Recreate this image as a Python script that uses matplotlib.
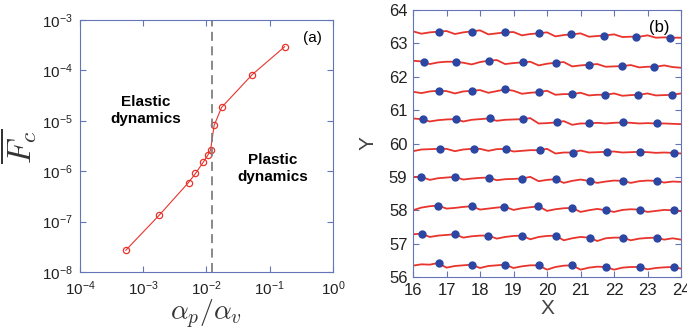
import numpy as np
import matplotlib
matplotlib.use("Agg")
import matplotlib.pyplot as plt

plt.rcParams['font.family'] = ['Liberation Sans', 'DejaVu Sans']
plt.rcParams['mathtext.fontset'] = 'cm'

# panel (a): critical force vs alpha_p / alpha_v
ratio = [5.3e-4, 1.79e-3, 5.2e-3, 6.7e-3, 8.9e-3, 1.05e-2, 1.16e-2, 1.32e-2, 1.73e-2, 5.26e-2, 0.172]
fc = [2.7e-8, 1.34e-7, 5.96e-7, 9.0e-7, 1.51e-6, 2.08e-6, 2.61e-6, 8.07e-6, 1.84e-5, 8.2e-5, 2.95e-4]
transition = 1.23e-2

# panel (b): vortex rows (red trajectories, blue positions)
x_line = [16.00, 16.25, 16.50, 16.75, 17.00, 17.25, 17.50, 17.75, 18.00, 18.25, 18.50,
          18.75, 19.00, 19.25, 19.50, 19.75, 20.00, 20.25, 20.50, 20.75, 21.00, 21.25,
          21.50, 21.75, 22.00, 22.25, 22.50, 22.75, 23.00, 23.25, 23.50, 23.75, 24.00]
rows_y = [
    [63.36, 63.29, 63.33, 63.35, 63.37, 63.28, 63.33, 63.36, 63.39, 63.27, 63.30,
     63.33, 63.34, 63.24, 63.28, 63.30, 63.33, 63.21, 63.25, 63.27, 63.30, 63.20,
     63.22, 63.24, 63.27, 63.19, 63.20, 63.20, 63.24, 63.17, 63.18, 63.17, 63.17],
    [62.48, 62.46, 62.38, 62.43, 62.45, 62.45, 62.42, 62.37, 62.44, 62.48, 62.50,
     62.38, 62.41, 62.43, 62.45, 62.34, 62.39, 62.42, 62.44, 62.31, 62.34, 62.36,
     62.38, 62.30, 62.31, 62.32, 62.35, 62.28, 62.30, 62.30, 62.34, 62.29, 62.27],
    [61.55, 61.51, 61.56, 61.58, 61.57, 61.50, 61.56, 61.58, 61.60, 61.52, 61.57,
     61.62, 61.58, 61.49, 61.52, 61.54, 61.58, 61.46, 61.48, 61.48, 61.52, 61.44,
     61.46, 61.46, 61.50, 61.43, 61.45, 61.46, 61.50, 61.44, 61.45, 61.46, 61.50],
    [60.75, 60.73, 60.66, 60.70, 60.72, 60.73, 60.66, 60.71, 60.73, 60.75, 60.68,
     60.71, 60.72, 60.73, 60.76, 60.60, 60.61, 60.63, 60.67, 60.56, 60.60, 60.60,
     60.62, 60.60, 60.62, 60.63, 60.62, 60.60, 60.61, 60.60, 60.60, 60.59, 60.58],
    [59.77, 59.82, 59.83, 59.84, 59.84, 59.77, 59.82, 59.84, 59.84, 59.78, 59.83,
     59.84, 59.76, 59.78, 59.80, 59.80, 59.84, 59.70, 59.73, 59.73, 59.79, 59.73,
     59.74, 59.75, 59.76, 59.73, 59.74, 59.75, 59.74, 59.72, 59.73, 59.72, 59.70],
    [59.00, 59.00, 58.91, 58.96, 58.98, 59.00, 58.92, 58.95, 58.97, 58.98, 58.90,
     58.93, 58.94, 58.95, 59.00, 58.87, 58.91, 58.93, 58.82, 58.88, 58.92, 58.88,
     58.82, 58.86, 58.89, 58.88, 58.82, 58.87, 58.89, 58.88, 58.83, 58.86, 58.85],
    [58.00, 58.08, 58.12, 58.14, 58.05, 58.07, 58.10, 58.12, 58.02, 58.05, 58.08,
     58.10, 58.01, 58.06, 58.09, 58.12, 57.98, 58.03, 58.06, 58.07, 57.95, 58.00,
     58.04, 58.00, 57.95, 58.01, 58.03, 58.02, 57.95, 57.98, 58.01, 58.00, 57.97],
    [57.28, 57.30, 57.20, 57.24, 57.26, 57.28, 57.18, 57.22, 57.24, 57.24, 57.15,
     57.20, 57.23, 57.24, 57.13, 57.20, 57.23, 57.24, 57.10, 57.16, 57.20, 57.18,
     57.08, 57.16, 57.18, 57.18, 57.10, 57.15, 57.17, 57.18, 57.12, 57.16, 57.12],
    [56.34, 56.38, 56.37, 56.42, 56.28, 56.33, 56.35, 56.37, 56.27, 56.33, 56.35,
     56.37, 56.27, 56.32, 56.35, 56.35, 56.22, 56.30, 56.34, 56.35, 56.22, 56.28,
     56.31, 56.30, 56.22, 56.28, 56.30, 56.30, 56.23, 56.27, 56.29, 56.30, 56.25],
]
dots_x = [
    [16.78, 17.77, 18.74, 19.76, 20.72, 21.71, 22.66, 23.68],
    [16.32, 17.28, 18.27, 19.27, 20.26, 21.24, 22.23, 23.20],
    [16.78, 17.77, 18.74, 19.76, 20.74, 21.74, 22.73, 23.73],
    [16.30, 17.28, 18.31, 19.27, 20.29, 21.25, 22.26, 23.28],
    [16.80, 17.82, 18.79, 19.79, 20.79, 21.79, 22.78, 23.78],
    [16.24, 17.26, 18.27, 19.24, 20.27, 21.29, 22.28, 23.28],
    [16.76, 17.75, 18.72, 19.74, 20.76, 21.76, 22.78, 23.78],
    [16.28, 17.26, 18.25, 19.24, 20.26, 21.27, 22.28, 23.28],
    [16.78, 17.77, 18.74, 19.77, 20.76, 21.77, 22.78, 23.78],
]
dots_y = [
    [63.35, 63.35, 63.33, 63.30, 63.27, 63.23, 63.20, 63.17],
    [62.45, 62.45, 62.48, 62.43, 62.42, 62.36, 62.32, 62.30],
    [61.58, 61.58, 61.62, 61.54, 61.48, 61.46, 61.46, 61.46],
    [60.73, 60.73, 60.75, 60.73, 60.63, 60.60, 60.63, 60.60],
    [59.84, 59.84, 59.84, 59.80, 59.73, 59.75, 59.75, 59.72],
    [59.00, 59.00, 58.98, 58.95, 58.93, 58.88, 58.88, 58.88],
    [58.14, 58.12, 58.10, 58.12, 58.07, 58.00, 58.02, 58.00],
    [57.30, 57.28, 57.24, 57.24, 57.24, 57.18, 57.18, 57.18],
    [56.42, 56.37, 56.37, 56.35, 56.35, 56.30, 56.30, 56.30],
]

red = "#e8342c"
blue = "#2b47a3"
frame = "#6474b8"

fig = plt.figure(figsize=(6.87, 3.30), dpi=100)

# ---- panel (a)
ax1 = fig.add_axes([0.1164, 0.1758, 0.3683, 0.7636])
ax1.plot(ratio, fc, color=red, lw=0.8, marker='o', mfc='none', mec=red, ms=4.5, mew=0.9)
ax1.axvline(transition, color='#808080', lw=1.3, ls=(0, (5, 3)))
ax1.set_xscale('log')
ax1.set_yscale('log')
ax1.set_xlim(1e-4, 1)
ax1.set_ylim(1e-8, 1e-3)
ax1.minorticks_off()
ax1.set_xticks([1e-4, 1e-3, 1e-2, 1e-1, 1])
ax1.set_yticks([1e-8, 1e-7, 1e-6, 1e-5, 1e-4, 1e-3])
ax1.tick_params(direction='in', top=True, right=True, labelsize=11, length=4,
                color=frame, labelcolor='#222222', pad=5)
for s in ax1.spines.values():
    s.set_color(frame)
ax1.set_xlabel(r'$\alpha_p/\alpha_v$', fontsize=20, labelpad=0, color='#333333')
ax1.set_ylabel(r'$\overline{F_c}$', fontsize=24, labelpad=2, color='#333333')
ax1.text(0.26, 0.64, 'Elastic\ndynamics', transform=ax1.transAxes, fontsize=11,
         fontweight='bold', ha='center', va='center', linespacing=1.3)
ax1.text(0.76, 0.41, 'Plastic\ndynamics', transform=ax1.transAxes, fontsize=11,
         fontweight='bold', ha='center', va='center', linespacing=1.3)
ax1.text(0.92, 0.93, '(a)', transform=ax1.transAxes, fontsize=11, ha='center', va='center')

# ---- panel (b)
ax2 = fig.add_axes([0.6012, 0.1606, 0.3901, 0.8091])
for ys in rows_y:
    ax2.plot(x_line, ys, color=red, lw=1.3)
for xs, ys in zip(dots_x, dots_y):
    ax2.plot(xs, ys, 'o', color=blue, ms=6, mec='none')
ax2.set_xlim(16, 24)
ax2.set_ylim(56, 64)
ax2.set_xticks(range(16, 25))
ax2.set_yticks(range(56, 65))
ax2.tick_params(direction='in', top=True, right=True, labelsize=12, length=4,
                color=frame, labelcolor='#222222', pad=4)
for s in ax2.spines.values():
    s.set_color(frame)
ax2.set_xlabel('X', fontsize=15, labelpad=1, color='#444444')
ax2.set_ylabel('Y', fontsize=15, labelpad=8, color='#444444')
ax2.text(0.92, 0.935, '(b)', transform=ax2.transAxes, fontsize=12, ha='center', va='center')

fig.savefig('out.png', dpi=100)
